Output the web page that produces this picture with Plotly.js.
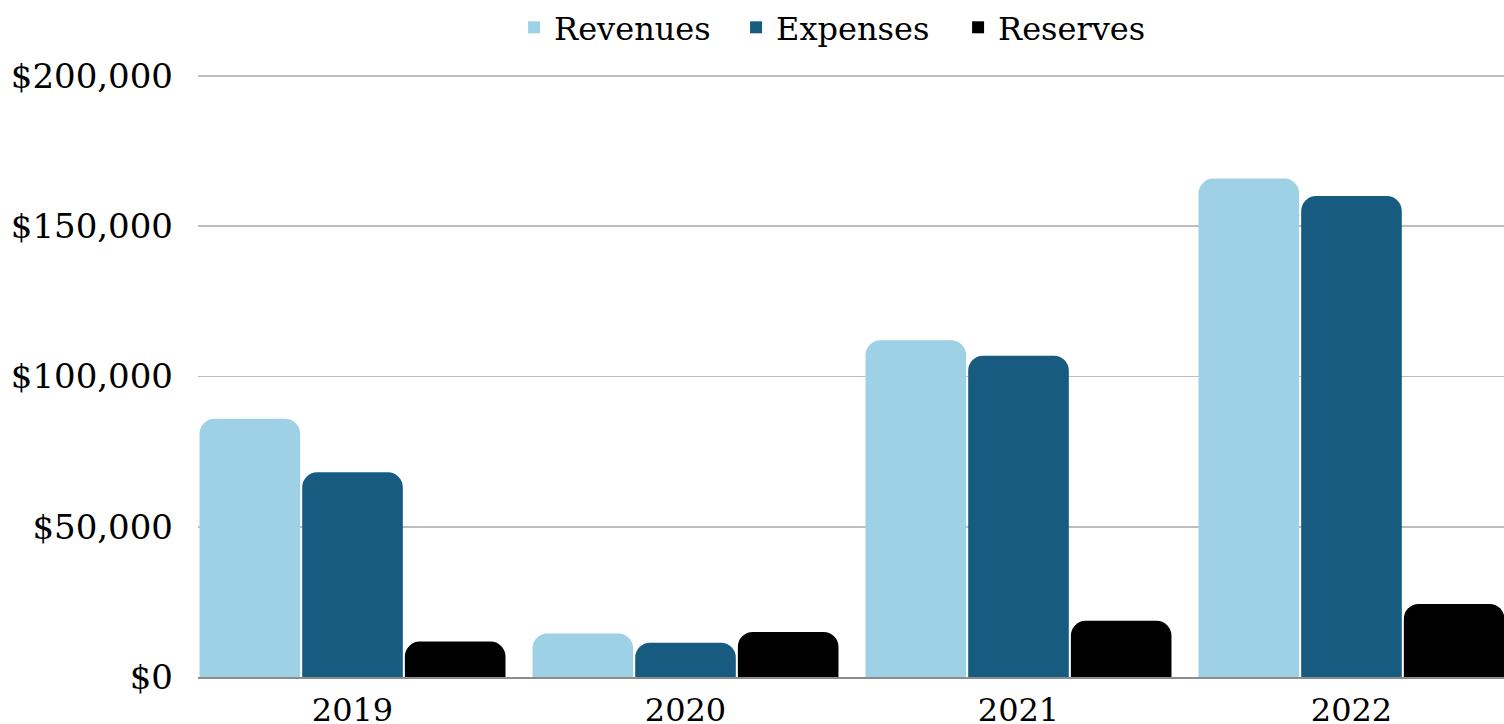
<!DOCTYPE html>
<html>
<head>
<meta charset="utf-8">
<script src="https://cdn.plot.ly/plotly-3.0.1.min.js"></script>
<style>html,body{margin:0;padding:0;background:#fff;}#chart{width:1504px;height:724px;}</style>
</head>
<body>
<div id="chart"></div>
<script>
const years = ["2019", "2020", "2021", "2022"];
const revenues = [85900, 14500, 112000, 165800];
const expenses = [68100, 11400, 106900, 160000];
const reserves = [11800, 15000, 18700, 24300];
const seriesNames = ["Revenues", "Expenses", "Reserves"];
const seriesColors = ["#9ED1E5", "#175C80", "#000000"];
const yTickVals = [0, 50000, 100000, 150000, 200000];
const yTickText = ["$0", "$50,000", "$100,000", "$150,000", "$200,000"];

const FONT = "DejaVu Serif";
const values = [revenues, expenses, reserves];
const data = [];
values.forEach((y, i) => {
  data.push({type: "bar", name: seriesNames[i], x: years, y: y, showlegend: false,
    marker: {color: seriesColors[i], cornerradius: 15, line: {width: 0}}, hoverinfo: "skip"});
});
// legend-only entries (square icons) on a hidden overlay axis
seriesNames.forEach((n, i) => {
  data.push({type: "bar", name: n, x: years, y: [null, null, null, null], xaxis: "x2", yaxis: "y2",
    marker: {color: seriesColors[i], line: {width: 0}}, hoverinfo: "skip", showlegend: true});
});
const layout = {
  width: 1504, height: 724,
  paper_bgcolor: "#fff", plot_bgcolor: "#fff",
  margin: {l: 198, r: 0, t: 73, b: 47, pad: 0},
  font: {family: FONT, color: "#000", size: 32},
  barmode: "group", bargap: 0.075, bargroupgap: 0.02,
  showlegend: true,
  legend: {orientation: "h", x: 0.497, xanchor: "center", y: 1.077, yanchor: "middle",
    font: {family: FONT, size: 32, color: "#000"}, entrywidth: 177, entrywidthmode: "pixels",
    bgcolor: "rgba(0,0,0,0)"},
  xaxis: {type: "category", range: [-0.464, 3.458], showgrid: false,
    showline: true, linecolor: "#8c8c8c", linewidth: 1.5, ticks: "", automargin: false,
    ticklabelstandoff: 4, tickfont: {family: FONT, size: 32}},
  yaxis: {range: [0, 200600], tickvals: yTickVals, ticktext: yTickText,
    showgrid: true, gridcolor: "#bdbdbd", gridwidth: 1.6, zeroline: false,
    ticks: "", ticklabelstandoff: 24, automargin: false,
    tickfont: {family: FONT, size: 34}},
  xaxis2: {overlaying: "x", visible: false, type: "category", range: [-0.464, 3.458]},
  yaxis2: {overlaying: "y", visible: false, range: [0, 1]}
};
Plotly.newPlot("chart", data, layout, {staticPlot: true, displayModeBar: false});
</script>
</body>
</html>
